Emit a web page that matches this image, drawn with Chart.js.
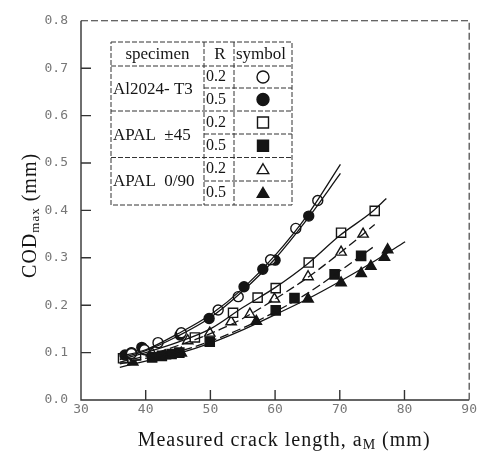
<!DOCTYPE html>
<html>
<head>
<meta charset="utf-8">
<script src="https://cdn.jsdelivr.net/npm/chart.js@4.4.0/dist/chart.umd.min.js"></script>
<style>
  html, body { margin: 0; padding: 0; background: #fff; }
  #wrap { width: 479px; height: 452px; }
</style>
</head>
<body>
<div id="wrap"><canvas id="codChart" width="479" height="452"></canvas></div>
<script>
// Axis ticks
const xTicks = [30, 40, 50, 60, 70, 80, 90];
const yTicks = [0.0, 0.1, 0.2, 0.3, 0.4, 0.5, 0.6, 0.7, 0.8];

// Measured points: crack length aM (mm) / COD max (mm)
const al02X = [37.8, 39.8, 41.9, 45.5, 51.2, 54.3, 59.3, 63.2, 66.6];
const al02Y = [0.098, 0.106, 0.121, 0.142, 0.190, 0.218, 0.296, 0.362, 0.421];
const al05X = [36.8, 37.8, 39.4, 45.3, 49.8, 55.2, 58.1, 60.0, 65.2];
const al05Y = [0.095, 0.100, 0.111, 0.137, 0.172, 0.239, 0.276, 0.295, 0.388];
const ap45r02X = [36.5, 38.5, 47.6, 53.5, 57.3, 60.1, 65.2, 70.2, 75.4];
const ap45r02Y = [0.088, 0.094, 0.132, 0.184, 0.216, 0.236, 0.290, 0.353, 0.399];
const ap45r05X = [41.0, 42.5, 44.0, 45.2, 49.9, 60.1, 63.0, 69.2, 73.3];
const ap45r05Y = [0.090, 0.093, 0.097, 0.100, 0.123, 0.189, 0.215, 0.265, 0.304];
const ap90r02X = [37.0, 41.0, 46.5, 49.9, 53.2, 56.1, 59.9, 65.1, 70.2, 73.6];
const ap90r02Y = [0.086, 0.098, 0.125, 0.141, 0.165, 0.181, 0.213, 0.260, 0.312, 0.350];
const ap90r05X = [38.0, 43.0, 45.5, 57.1, 65.1, 70.2, 73.3, 74.8, 76.9, 77.4];
const ap90r05Y = [0.080, 0.093, 0.099, 0.166, 0.213, 0.247, 0.267, 0.282, 0.301, 0.317];

// Fitted curves
const fitAl02X = [36, 40, 45, 50, 55, 60, 65, 70.1];
const fitAl02Y = [0.092, 0.106, 0.140, 0.180, 0.235, 0.305, 0.390, 0.497];
const fitAl05X = [36, 40, 45, 50, 55, 60, 65, 70.1];
const fitAl05Y = [0.088, 0.104, 0.135, 0.174, 0.230, 0.298, 0.382, 0.478];
const fitAp45r02X = [36, 40, 45, 50, 55, 60, 65, 70, 75, 77.2];
const fitAp45r02Y = [0.085, 0.100, 0.122, 0.150, 0.195, 0.237, 0.287, 0.347, 0.397, 0.425];
const fitAp90r02X = [36, 40, 45, 50, 55, 60, 65, 70, 75.4];
const fitAp90r02Y = [0.080, 0.093, 0.115, 0.140, 0.172, 0.213, 0.258, 0.310, 0.370];
const fitAp45r05X = [36, 40, 45, 50, 55, 60, 65, 70, 75.1];
const fitAp45r05Y = [0.076, 0.088, 0.102, 0.124, 0.152, 0.186, 0.225, 0.272, 0.322];
const fitAp90r05X = [36, 40, 45, 50, 55, 60, 65, 70, 75, 80.1];
const fitAp90r05Y = [0.069, 0.082, 0.098, 0.120, 0.148, 0.180, 0.213, 0.250, 0.290, 0.334];

const INK = '#151515';
const pts = (xs, ys) => xs.map((v, i) => ({ x: v, y: ys[i] }));

function fitLine(xs, ys, dash) {
  return {
    data: pts(xs, ys),
    showLine: true,
    borderColor: INK,
    borderWidth: 1.3,
    borderDash: dash || [],
    pointRadius: 0,
    cubicInterpolationMode: 'monotone',
    fill: false
  };
}

function markers(xs, ys, style, filled, r) {
  return {
    data: pts(xs, ys),
    showLine: false,
    pointStyle: style,
    pointRadius: r,
    pointBorderWidth: 1.4,
    pointBorderColor: INK,
    pointBackgroundColor: filled ? INK : '#fff'
  };
}

// Legend table drawn inside the plot
function drawSymbol(ctx, style, filled, cx, cy, r) {
  ctx.beginPath();
  if (style === 'circle') {
    ctx.arc(cx, cy, r, 0, Math.PI * 2);
  } else if (style === 'rect') {
    ctx.rect(cx - r, cy - r, 2 * r, 2 * r);
  } else {
    ctx.moveTo(cx, cy - r);
    ctx.lineTo(cx + r * 1.05, cy + r * 0.8);
    ctx.lineTo(cx - r * 1.05, cy + r * 0.8);
    ctx.closePath();
  }
  ctx.fillStyle = filled ? INK : '#fff';
  ctx.fill();
  ctx.lineWidth = 1.4;
  ctx.strokeStyle = INK;
  ctx.stroke();
}

const tablePlugin = {
  id: 'specimenTable',
  afterDraw(chart) {
    const ctx = chart.ctx;
    const L = 111, R = 292, T = 42, B = 205;
    const c1 = 204, c2 = 234;
    const rows = [66, 88, 111, 134, 157.5, 181, 205];
    ctx.save();
    ctx.strokeStyle = '#333';
    ctx.lineWidth = 1;
    ctx.setLineDash([5, 2]);
    ctx.beginPath();
    ctx.rect(L, T, R - L, B - T);
    ctx.moveTo(c1, T); ctx.lineTo(c1, B);
    ctx.moveTo(c2, T); ctx.lineTo(c2, B);
    [0, 2, 4].forEach(i => { ctx.moveTo(L, rows[i]); ctx.lineTo(R, rows[i]); });
    [1, 3, 5].forEach(i => { ctx.moveTo(c1, rows[i]); ctx.lineTo(R, rows[i]); });
    ctx.stroke();
    ctx.setLineDash([]);

    ctx.fillStyle = INK;
    ctx.font = '17px "Liberation Serif"';
    ctx.textBaseline = 'middle';
    ctx.textAlign = 'center';
    ctx.fillText('specimen', (L + c1) / 2, 55);
    ctx.fillText('R', (c1 + c2) / 2 + 1, 55);
    ctx.textAlign = 'left';
    ctx.fillText('symbol', c2 + 2, 55);
    ctx.fillText('Al2024- T3', L + 2, 90);
    ctx.fillText('APAL  \u00b145', L + 2, 136);
    ctx.fillText('APAL  0/90', L + 2, 182);
    ctx.font = '16px "Liberation Serif"';
    const rVals = ['0.2', '0.5', '0.2', '0.5', '0.2', '0.5'];
    const syms = [['circle', false], ['circle', true], ['rect', false], ['rect', true], ['triangle', false], ['triangle', true]];
    for (let i = 0; i < 6; i++) {
      const cy = (rows[i] + rows[i + 1]) / 2;
      ctx.fillStyle = INK;
      ctx.fillText(rVals[i], c1 + 2, cy);
      const s = syms[i];
      drawSymbol(ctx, s[0], s[1], (c2 + R) / 2, cy, s[0] === 'circle' ? 6 : 5.5);
    }
    ctx.restore();
  }
};

// Frame, inward ticks and axis titles
const framePlugin = {
  id: 'frame',
  afterDraw(chart) {
    const { ctx, chartArea: a, scales: { x, y } } = chart;
    ctx.save();
    ctx.strokeStyle = '#333';
    ctx.lineWidth = 1.4;
    ctx.beginPath();
    ctx.moveTo(a.left, a.top);
    ctx.lineTo(a.left, a.bottom);
    ctx.lineTo(a.right, a.bottom);
    xTicks.slice(1, -1).forEach(v => {
      const px = x.getPixelForValue(v);
      ctx.moveTo(px, a.bottom);
      ctx.lineTo(px, a.bottom - 10);
    });
    yTicks.slice(1, -1).forEach(v => {
      const py = y.getPixelForValue(v);
      ctx.moveTo(a.left, py);
      ctx.lineTo(a.left + 10, py);
    });
    ctx.stroke();
    ctx.lineWidth = 1.1;
    ctx.setLineDash([7, 3]);
    ctx.beginPath();
    ctx.moveTo(a.left, a.top);
    ctx.lineTo(a.right, a.top);
    ctx.lineTo(a.right, a.bottom);
    ctx.stroke();
    ctx.setLineDash([]);

    ctx.fillStyle = INK;
    ctx.textBaseline = 'alphabetic';
    ctx.letterSpacing = '1px';
    // x title with subscript
    const big = '20px "Liberation Serif"', small = '14px "Liberation Serif"';
    const parts = [['Measured crack length, a', big, 0], ['M', small, 3], [' (mm)', big, 0]];
    let w = 0;
    parts.forEach(p => { ctx.font = p[1]; w += ctx.measureText(p[0]).width; });
    let cx = (a.left + a.right) / 2 - w / 2 + 9;
    parts.forEach(p => {
      ctx.font = p[1];
      ctx.fillText(p[0], cx, 446 + p[2]);
      cx += ctx.measureText(p[0]).width;
    });
    // y title, rotated
    ctx.translate(36, (a.top + a.bottom) / 2 + 5);
    ctx.rotate(-Math.PI / 2);
    const yparts = [['COD', '20px "Liberation Serif"', 0], ['max', '13px "Liberation Serif"', 3], [' (mm)', '20px "Liberation Serif"', 0]];
    w = 0;
    yparts.forEach(p => { ctx.font = p[1]; w += ctx.measureText(p[0]).width; });
    cx = -w / 2;
    yparts.forEach(p => {
      ctx.font = p[1];
      ctx.fillText(p[0], cx, p[2]);
      cx += ctx.measureText(p[0]).width;
    });
    ctx.restore();
  }
};

const tickFont = { family: '"DejaVu Sans Mono"', size: 13 };

new Chart(document.getElementById('codChart'), {
  type: 'scatter',
  data: {
    datasets: [
      fitLine(fitAl02X, fitAl02Y),
      fitLine(fitAl05X, fitAl05Y),
      fitLine(fitAp45r02X, fitAp45r02Y),
      fitLine(fitAp90r02X, fitAp90r02Y, [9, 4]),
      fitLine(fitAp45r05X, fitAp45r05Y, [9, 4]),
      fitLine(fitAp90r05X, fitAp90r05Y),
      markers(al02X, al02Y, 'circle', false, 5),
      markers(al05X, al05Y, 'circle', true, 5),
      markers(ap45r02X, ap45r02Y, 'rect', false, 6.5),
      markers(ap45r05X, ap45r05Y, 'rect', true, 6.5),
      markers(ap90r02X, ap90r02Y, 'triangle', false, 6),
      markers(ap90r05X, ap90r05Y, 'triangle', true, 6)
    ]
  },
  options: {
    responsive: false,
    animation: false,
    layout: { padding: { top: 15, right: 9, left: 0, bottom: 0 } },
    plugins: { legend: { display: false }, tooltip: { enabled: false } },
    scales: {
      x: {
        type: 'linear',
        min: 30,
        max: 90,
        grid: { display: false, drawTicks: false },
        border: { display: false },
        afterBuildTicks: s => { s.ticks = xTicks.map(v => ({ value: v })); },
        afterFit: s => { s.height = 52; },
        ticks: { color: '#777', font: tickFont, padding: 2, maxRotation: 0 }
      },
      y: {
        type: 'linear',
        min: 0,
        max: 0.8,
        grid: { display: false, drawTicks: false },
        border: { display: false },
        afterBuildTicks: s => { s.ticks = yTicks.map(v => ({ value: v })); },
        afterFit: s => { s.width = 81; },
        ticks: { color: '#777', font: tickFont, padding: 13, callback: v => v.toFixed(1) }
      }
    }
  },
  plugins: [framePlugin, tablePlugin]
});
</script>
</body>
</html>
